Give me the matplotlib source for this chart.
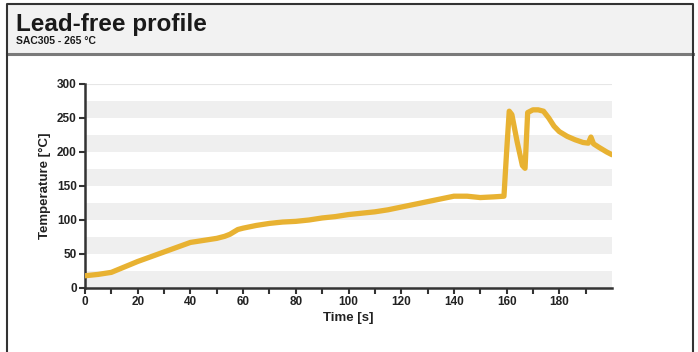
import matplotlib
matplotlib.use("Agg")
import matplotlib.pyplot as plt
from matplotlib.lines import Line2D
from matplotlib.patches import Rectangle

plt.rcParams["font.family"] = ["Liberation Sans", "DejaVu Sans"]
plt.rcParams["font.weight"] = "bold"

TITLE = "Lead-free profile"
SUBTITLE = "SAC305 - 265 °C"

# reflow profile readings: time [s] and temperature [°C]
time_s = [0, 5, 10, 15, 20, 25, 30, 35, 40, 45, 50, 53, 55, 58, 60, 65, 70, 75,
          80, 85, 90, 95, 100, 105, 110, 115, 120, 125, 130, 135, 140, 145, 150,
          155, 159, 160, 161, 162, 164, 166, 167, 168, 170, 172, 174, 176, 178,
          180, 183, 186, 189, 191, 192, 193, 195, 198, 200]
temp_c = [18, 20, 23, 31, 39, 46, 53, 60, 67, 70, 73, 76, 79, 86, 88, 92, 95, 97,
          98, 100, 103, 105, 108, 110, 112, 115, 119, 123, 127, 131, 135, 135, 133,
          134, 135, 200, 260, 255, 215, 180, 176, 258, 262, 262, 260, 250, 238,
          230, 223, 218, 214, 213, 222, 212, 207, 200, 196]

x_ticks = list(range(0, 200, 10))
x_labels = [str(t) if t % 20 == 0 else "" for t in x_ticks]
y_ticks = [0, 50, 100, 150, 200, 250, 300]
bands = [(0, 25), (50, 75), (100, 125), (150, 175), (200, 225), (250, 275)]

LINE_COLOR = "#e8b232"

fig = plt.figure(figsize=(6.98, 3.52), dpi=100)
W, H = 698, 352

# panel header
fig.patches.append(Rectangle((7 / W, 1 - 53 / H), (693 - 7) / W, 49 / H,
                             transform=fig.transFigure, facecolor="#f2f2f2",
                             edgecolor="none", zorder=0))
fig.lines.append(Line2D([7 / W, 693 / W], [1 - 54 / H] * 2, transform=fig.transFigure,
                        color="#7a7a7a", linewidth=2.2))
# panel frame (left, top, right)
fig.lines.append(Line2D([7 / W, 7 / W, 693 / W, 693 / W], [0, 1 - 3.5 / H, 1 - 3.5 / H, 0],
                        transform=fig.transFigure, color="#333333", linewidth=1.5))

fig.text(16 / W, 1 - 31 / H, TITLE, fontsize=17.5, fontweight="bold", color="#1a1a1a")
fig.text(16 / W, 1 - 44 / H, SUBTITLE, fontsize=7.5, fontweight="bold", color="#1a1a1a")

ax = fig.add_axes([85 / W, 1 - 288 / H, (612 - 85) / W, (288 - 84) / H])

for lo, hi in bands:
    ax.axhspan(lo, hi, color="#efefef", linewidth=0, zorder=0)
ax.axhline(300, color="#e6e6e6", linewidth=0.8, zorder=0)

ax.plot(time_s, temp_c, color=LINE_COLOR, linewidth=3.8,
        solid_joinstyle="round", solid_capstyle="round", zorder=3)

ax.set_xlim(0, 200)
ax.set_ylim(0, 300)
ax.set_xticks(x_ticks)
ax.set_xticklabels(x_labels)
ax.set_yticks(y_ticks)

for side in ("top", "right"):
    ax.spines[side].set_visible(False)
for side in ("left", "bottom"):
    ax.spines[side].set_linewidth(1.8)
    ax.spines[side].set_color("#333333")

ax.tick_params(axis="both", direction="out", length=4, width=1.5, color="#333333",
               labelsize=8.5, labelcolor="#222222", pad=2)
for lbl in ax.get_xticklabels() + ax.get_yticklabels():
    lbl.set_fontweight("bold")

ax.set_xlabel("Time [s]", fontsize=9.5, fontweight="bold", color="#222222", labelpad=3)
ax.set_ylabel("Temperature [°C]", fontsize=9.5, fontweight="bold", color="#222222", labelpad=4)

fig.savefig("out.png", dpi=100)
